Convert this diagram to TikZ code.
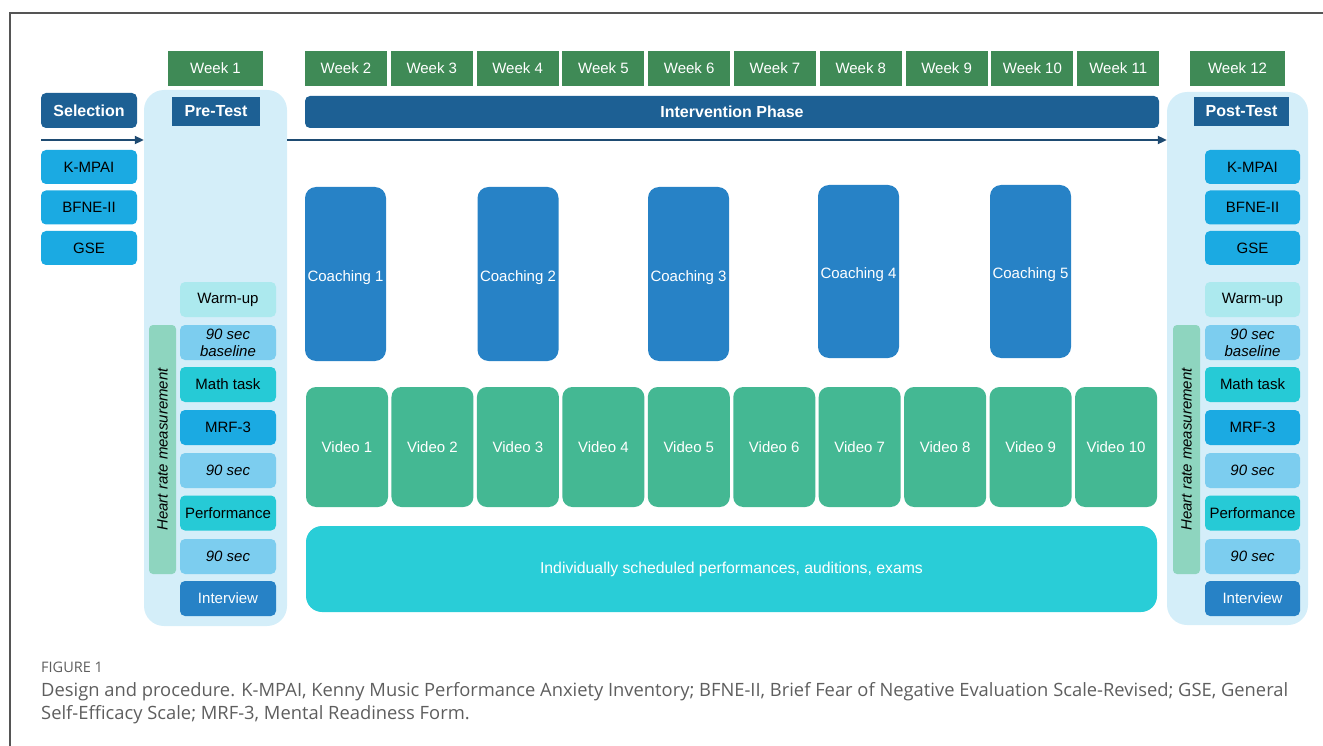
\documentclass[tikz,border=0pt]{standalone}
\usepackage{fontspec}
\setmainfont{Liberation Sans}
\newfontfamily\capfont{Open Sans}
\usetikzlibrary{arrows.meta}

\definecolor{weekgreen}{HTML}{3F8A56}
\definecolor{phaseblue}{HTML}{1D6094}
\definecolor{arrownavy}{HTML}{1E4B72}
\definecolor{scaleblue}{HTML}{1BAAE2}
\definecolor{panelblue}{HTML}{D4EEF9}
\definecolor{warmcyan}{HTML}{ACE9EE}
\definecolor{restblue}{HTML}{7CCDEF}
\definecolor{taskteal}{HTML}{26CAD6}
\definecolor{talkblue}{HTML}{2782C6}
\definecolor{heartmint}{HTML}{8ED5BF}
\definecolor{videogreen}{HTML}{44B893}
\definecolor{stagecyan}{HTML}{29CDD7}
\definecolor{framegray}{HTML}{555555}
\definecolor{captiongray}{HTML}{5E5E5E}

\tikzset{
  base/.style={inner sep=0pt, font=\fontsize{15}{17}\selectfont, align=center},
  weekbox/.style={base, fill=weekgreen, text=white, minimum height=35pt},
  headbox/.style={base, fill=phaseblue, text=white, font=\bfseries\fontsize{16}{18}\selectfont},
  scalebox/.style={base, fill=scaleblue, text=black, rounded corners=5pt, minimum width=96pt, minimum height=34pt},
  itembox/.style={base, rounded corners=5pt, minimum width=96pt, minimum height=35pt},
  panel/.style={fill=panelblue, rounded corners=20pt, inner sep=0pt},
  heartbar/.style={base, fill=heartmint, rounded corners=4pt, minimum width=249pt, minimum height=27pt, rotate=90, font=\itshape\fontsize{15}{17}\selectfont},
  coachbox/.style={base, fill=talkblue, rounded corners=11pt, minimum width=81pt},
  coachtext/.style={text=white, inner sep=0pt, font=\fontsize{15}{17}\selectfont},
  videobox/.style={base, fill=videogreen, text=white, rounded corners=10pt, minimum width=82pt, minimum height=120pt},
  flow/.style={draw=arrownavy, line width=2pt, -{Triangle[length=9pt,width=8pt]}}
}

\begin{document}
\begin{tikzpicture}[x=1pt, y=-1pt]
\useasboundingbox (0,0) rectangle (1323,746);

% outer frame (top and left rules)
\draw[framegray, line width=1.3pt] (1323,13) -- (10,13) -- (10,746);

% week header row
\node[weekbox, minimum width=95pt] (w1) at (215.5,68.5) {Week 1};
\foreach \i [evaluate=\i as \cx using 346+(\i-2)*85.8] in {2,...,11}
  \node[weekbox, minimum width=82pt] (w\i) at (\cx,68.5) {Week \i};
\node[weekbox, minimum width=95pt] (w12) at (1237.5,68.5) {Week 12};

% pre-test and post-test panels
\node[panel, minimum width=143pt, minimum height=536pt] (pre) at (215.5,358) {};
\node[panel, minimum width=141pt, minimum height=533pt] (post) at (1237.5,358.5) {};

% selection column
\node[headbox, rounded corners=5pt, minimum width=96pt, minimum height=35pt] (sel) at (89,110.5) {Selection};
\node[scalebox] (s1) at (89,167) {K-MPAI};
\node[scalebox] (s2) at (89,207.5) {BFNE-II};
\node[scalebox] (s3) at (89,248) {GSE};

% phase headers
\node[headbox, minimum width=88pt, minimum height=29pt] (prelbl) at (216,111.5) {Pre-Test};
\node[headbox, rounded corners=5pt, minimum width=854pt, minimum height=32pt] (phase) at (732,112) {Intervention Phase};
\node[headbox, minimum width=95pt, minimum height=29pt] (postlbl) at (1241.5,111.5) {Post-Test};

% time line
\coordinate (t0) at (41,140);
\draw[flow] (t0) -- (pre.west |- t0);
\draw[flow] (pre.east |- t0) -- (post.west |- t0);

% pre-test procedure
\node[itembox, fill=warmcyan] (pa) at (228,299.5) {Warm-up};
\node[itembox, fill=restblue, font=\itshape\fontsize{15}{17}\selectfont] (pb) at (228,342.5) {90 sec\\baseline};
\node[itembox, fill=taskteal] (pc) at (228,384.5) {Math task};
\node[itembox, fill=scaleblue] (pd) at (228,427.5) {MRF-3};
\node[itembox, fill=restblue, font=\itshape\fontsize{15}{17}\selectfont] (pe) at (228,470.5) {90 sec};
\node[itembox, fill=taskteal] (pf) at (228,513) {Performance};
\node[itembox, fill=restblue, font=\itshape\fontsize{15}{17}\selectfont] (pg) at (228,556.5) {90 sec};
\node[itembox, fill=talkblue, text=white] (ph) at (228,598.5) {Interview};
\node[heartbar] (prehr) at (162.5,449.5) {Heart rate measurement};

% post-test procedure
\node[scalebox, minimum width=95pt] (q1) at (1252.5,167) {K-MPAI};
\node[scalebox, minimum width=95pt] (q2) at (1252.5,207.5) {BFNE-II};
\node[scalebox, minimum width=95pt] (q3) at (1252.5,248) {GSE};
\node[itembox, minimum width=95pt, fill=warmcyan] (qa) at (1252.5,299.5) {Warm-up};
\node[itembox, minimum width=95pt, fill=restblue, font=\itshape\fontsize{15}{17}\selectfont] (qb) at (1252.5,342.5) {90 sec\\baseline};
\node[itembox, minimum width=95pt, fill=taskteal] (qc) at (1252.5,384.5) {Math task};
\node[itembox, minimum width=95pt, fill=scaleblue] (qd) at (1252.5,427.5) {MRF-3};
\node[itembox, minimum width=95pt, fill=restblue, font=\itshape\fontsize{15}{17}\selectfont] (qe) at (1252.5,470.5) {90 sec};
\node[itembox, minimum width=95pt, fill=taskteal] (qf) at (1252.5,513) {Performance};
\node[itembox, minimum width=95pt, fill=restblue, font=\itshape\fontsize{15}{17}\selectfont] (qg) at (1252.5,556.5) {90 sec};
\node[itembox, minimum width=95pt, fill=talkblue, text=white] (qh) at (1252.5,598.5) {Interview};
\node[heartbar] (posthr) at (1186.5,449.5) {Heart rate measurement};

% coaching sessions (labels sit slightly below the box centre)
\node[coachbox, minimum height=174pt, label={[coachtext, yshift=-4pt]center:Coaching 1}] (c1) at (345.5,274) {};
\node[coachbox, minimum height=174pt, label={[coachtext, yshift=-4pt]center:Coaching 2}] (c2) at (518,274) {};
\node[coachbox, minimum height=174pt, label={[coachtext, yshift=-4pt]center:Coaching 3}] (c3) at (688.5,274) {};
\node[coachbox, minimum height=173pt, label={[coachtext, yshift=-3pt]center:Coaching 4}] (c4) at (858.5,271.5) {};
\node[coachbox, minimum height=173pt, label={[coachtext, yshift=-3pt]center:Coaching 5}] (c5) at (1030.5,271.5) {};

% video sessions
\foreach \i [evaluate=\i as \cx using 347+(\i-1)*85.45] in {1,...,10}
  \node[videobox] (v\i) at (\cx,447) {Video \i};

% performances band
\node[base, fill=stagecyan, text=white, rounded corners=16pt, minimum width=851pt, minimum height=86pt, font=\fontsize{15.8}{18}\selectfont] (perf) at (731.5,569) {Individually scheduled performances, auditions, exams};

% caption
\node[anchor=west, inner sep=0pt, text=captiongray, font=\capfont\fontsize{14.5}{16}\selectfont] (figlbl) at (41,667) {FIGURE 1};
\node[anchor=north west, inner sep=0pt, text=captiongray, align=left, font=\capfont\fontsize{18.35}{23}\selectfont] (cap) at (41,682) {Design and procedure. K-MPAI, Kenny Music Performance Anxiety Inventory; BFNE-II, Brief Fear of Negative Evaluation Scale-Revised; GSE, General\\Self-Efficacy Scale; MRF-3, Mental Readiness Form.};
\end{tikzpicture}
\end{document}
